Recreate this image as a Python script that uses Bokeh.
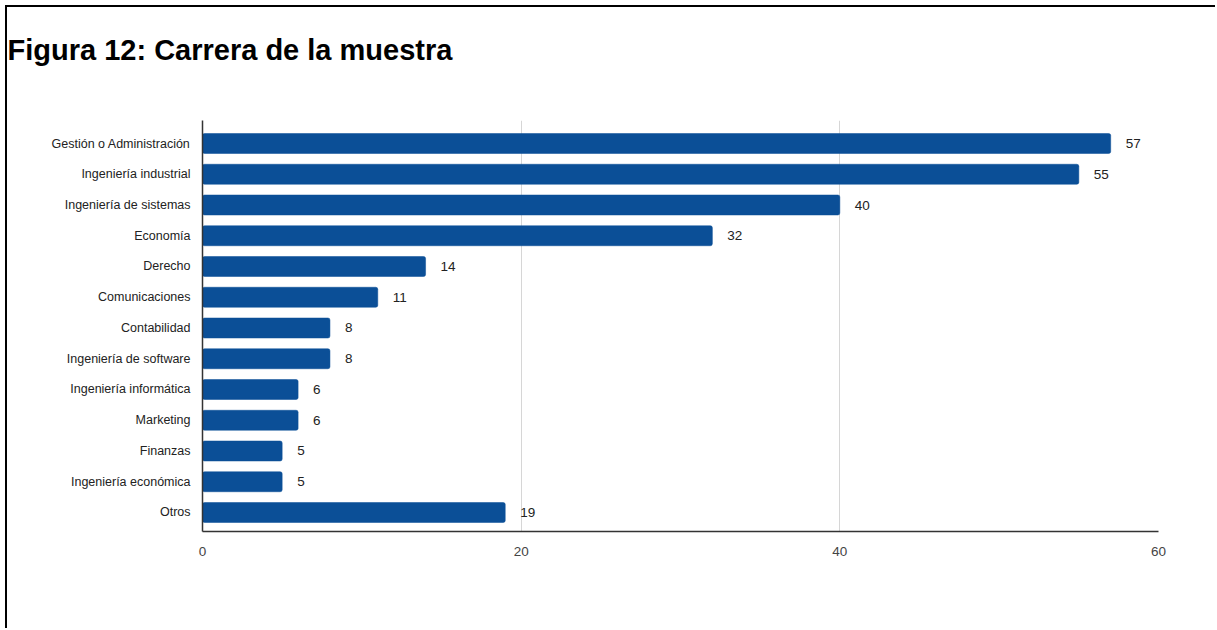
from bokeh.plotting import figure
from bokeh.models import Range1d, FixedTicker, ColumnDataSource, Title
from bokeh.core.properties import value
from bokeh.embed import file_html
from bokeh.resources import INLINE

categories = [
    "Gestión o Administración",
    "Ingeniería industrial",
    "Ingeniería de sistemas",
    "Economía",
    "Derecho",
    "Comunicaciones",
    "Contabilidad",
    "Ingeniería de software",
    "Ingeniería informática",
    "Marketing",
    "Finanzas",
    "Ingeniería económica",
    "Otros",
]
counts = [57, 55, 40, 32, 14, 11, 8, 8, 6, 6, 5, 5, 19]
x_ticks = [0, 20, 40, 60]
title_text = "Figura 12: Carrera de la muestra"

n = len(categories)
ypos = [n - i for i in range(n)]
src = ColumnDataSource(dict(y=ypos, v=counts, lab=[str(c) for c in counts], cat=categories))

FONT = "Liberation Sans"

p = figure(width=1210, height=623, output_backend="svg", toolbar_location=None,
           x_range=Range1d(0, 60), y_range=Range1d(1 - 0.618, n + 0.748),
           min_border_left=195, min_border_right=59, min_border_top=113, min_border_bottom=99,
           background_fill_color="white", border_fill_color="white", outline_line_color=None)
p.margin = (7, 0, 0, 7)
p.styles = {"box-shadow": "-2px -2px 0px 0px #000000"}

spacer = Title(text=" ", text_font_size="10px", standoff=37)
main_title = Title(text=title_text, text_font=FONT, text_font_style="bold",
                   text_font_size="29px", text_color="#000000", align="left",
                   offset=-195, standoff=10)
p.add_layout(spacer, "above")
p.add_layout(main_title, "above")

p.hbar(y="y", right="v", left=0, height=0.65, source=src, fill_color="#0b4f97",
       line_color="#0b4f97", line_width=0.5, border_radius=2)
p.text(x="v", y="y", text="lab", source=src, x_offset=15, text_baseline="middle",
       text_align="left", text_font=value(FONT), text_font_size="13.5px", text_color="#222222")

p.xaxis.ticker = FixedTicker(ticks=x_ticks)
p.xaxis.major_tick_line_color = None
p.xaxis.minor_tick_line_color = None
p.xaxis.axis_line_color = "#333333"
p.xaxis.axis_line_width = 1.5
p.xaxis.major_label_text_font = FONT
p.xaxis.major_label_text_font_size = "13.5px"
p.xaxis.major_label_text_color = "#444444"
p.xaxis.major_label_standoff = 9

p.yaxis.ticker = FixedTicker(ticks=ypos)
p.yaxis.major_label_overrides = {y: c for y, c in zip(ypos, categories)}
p.yaxis.major_tick_line_color = None
p.yaxis.minor_tick_line_color = None
p.yaxis.axis_line_color = "#333333"
p.yaxis.axis_line_width = 1.5
p.yaxis.major_label_text_font = FONT
p.yaxis.major_label_text_font_size = "12.5px"
p.yaxis.major_label_text_color = "#222222"
p.yaxis.major_label_standoff = 6

p.xgrid.ticker = FixedTicker(ticks=x_ticks)
p.xgrid.grid_line_color = "#d6d6d6"
p.ygrid.grid_line_color = None

open("out.html", "w").write(file_html(p, INLINE))
